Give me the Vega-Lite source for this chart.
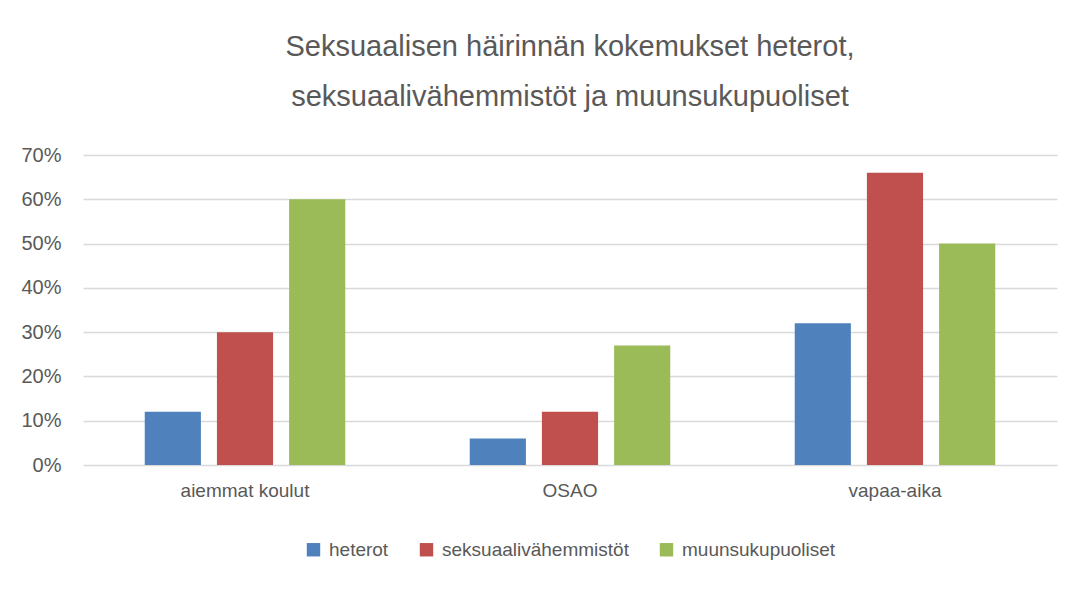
{
  "$schema": "https://vega.github.io/schema/vega-lite/v6.json",
  "width": 1081,
  "height": 590,
  "autosize": {"type": "fit", "contains": "padding"},
  "padding": {"left": 20, "right": 24, "top": 33, "bottom": 30},
  "background": "white",
  "config": {
    "font": "Liberation Sans",
    "view": {"stroke": null},
    "legend": {"layout": {"bottom": {"anchor": "middle"}}}
  },
  "title": {
    "text": ["Seksuaalisen häirinnän kokemukset heterot,", "seksuaalivähemmistöt ja muunsukupuoliset"],
    "fontSize": 29,
    "fontWeight": "normal",
    "color": "#595959",
    "anchor": "middle",
    "lineHeight": 50,
    "offset": 33
  },
  "data": {
    "values": [
      {"kategoria": "aiemmat koulut", "ryhmä": "heterot", "osuus": 0.12},
      {"kategoria": "aiemmat koulut", "ryhmä": "seksuaalivähemmistöt", "osuus": 0.30},
      {"kategoria": "aiemmat koulut", "ryhmä": "muunsukupuoliset", "osuus": 0.60},
      {"kategoria": "OSAO", "ryhmä": "heterot", "osuus": 0.06},
      {"kategoria": "OSAO", "ryhmä": "seksuaalivähemmistöt", "osuus": 0.12},
      {"kategoria": "OSAO", "ryhmä": "muunsukupuoliset", "osuus": 0.27},
      {"kategoria": "vapaa-aika", "ryhmä": "heterot", "osuus": 0.32},
      {"kategoria": "vapaa-aika", "ryhmä": "seksuaalivähemmistöt", "osuus": 0.66},
      {"kategoria": "vapaa-aika", "ryhmä": "muunsukupuoliset", "osuus": 0.50}
    ]
  },
  "mark": {"type": "bar"},
  "encoding": {
    "x": {
      "field": "kategoria",
      "type": "nominal",
      "sort": ["aiemmat koulut", "OSAO", "vapaa-aika"],
      "scale": {"paddingInner": 0.383, "paddingOuter": 0.19},
      "axis": {
        "title": null,
        "labelAngle": 0,
        "labelFontSize": 19,
        "labelColor": "#595959",
        "ticks": false,
        "domain": false,
        "labelPadding": 16
      }
    },
    "xOffset": {
      "field": "ryhmä",
      "type": "nominal",
      "sort": ["heterot", "seksuaalivähemmistöt", "muunsukupuoliset"],
      "scale": {"paddingInner": 0.222, "paddingOuter": 0}
    },
    "y": {
      "field": "osuus",
      "type": "quantitative",
      "scale": {"domain": [0, 0.7], "nice": false},
      "axis": {
        "title": null,
        "format": ".0%",
        "values": [0, 0.1, 0.2, 0.3, 0.4, 0.5, 0.6, 0.7],
        "labelFontSize": 20,
        "labelColor": "#595959",
        "ticks": false,
        "domain": false,
        "labelPadding": 22,
        "gridColor": "#D9D9D9",
        "gridWidth": 1.5
      }
    },
    "color": {
      "field": "ryhmä",
      "type": "nominal",
      "sort": ["heterot", "seksuaalivähemmistöt", "muunsukupuoliset"],
      "scale": {
        "domain": ["heterot", "seksuaalivähemmistöt", "muunsukupuoliset"],
        "range": ["#4F81BD", "#C0504D", "#9BBB59"]
      },
      "legend": {
        "title": null,
        "orient": "bottom",
        "direction": "horizontal",
        "symbolType": "square",
        "symbolSize": 180,
        "symbolStrokeWidth": 0,
        "labelFontSize": 19,
        "labelLimit": 400,
        "labelColor": "#595959",
        "columnPadding": 28,
        "labelOffset": 6,
        "offset": 40
      }
    }
  }
}
